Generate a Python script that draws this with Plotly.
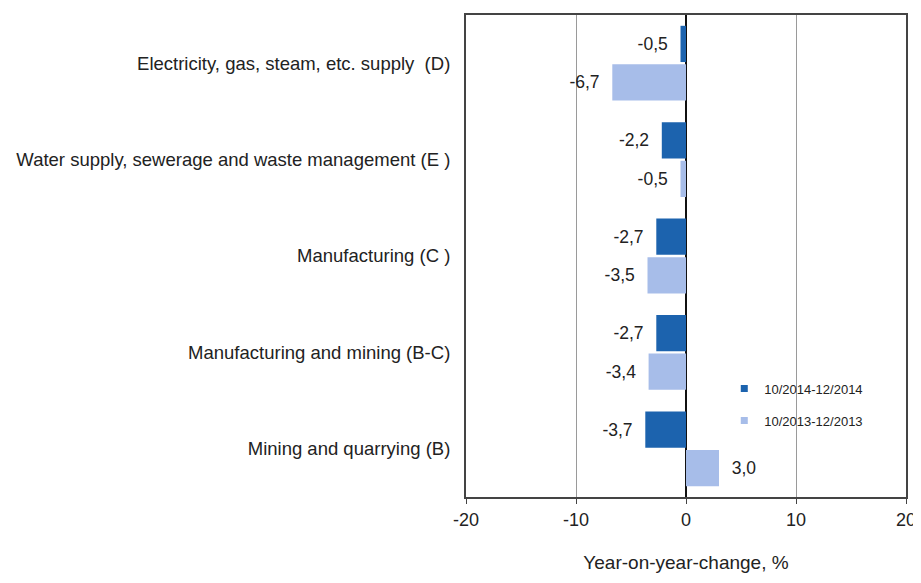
import plotly.graph_objects as go

categories = [
    "Electricity, gas, steam, etc. supply  (D)",
    "Water supply, sewerage and waste management (E )",
    "Manufacturing (C )",
    "Manufacturing and mining (B-C)",
    "Mining and quarrying (B)",
]
series_names = ["10/2014-12/2014", "10/2013-12/2013"]
values_2014 = [-0.5, -2.2, -2.7, -2.7, -3.7]
values_2013 = [-6.7, -0.5, -3.5, -3.4, 3.0]
x_ticks = [-20, -10, 0, 10, 20]

colors = ["#1c63ae", "#a7bde9"]
font = "Liberation Sans, Arial, sans-serif"
NB = "\u00a0"


def fmt(v):
    s = f"{v:.1f}".replace(".", ",")
    return s + NB * 2 if v < 0 else NB * 2 + s


fig = go.Figure()
for name, vals, col in zip(series_names, [values_2014, values_2013], colors):
    fig.add_trace(go.Bar(
        y=categories, x=vals, orientation="h", name=name,
        marker=dict(color=col, line=dict(width=0)),
        text=[fmt(v) for v in vals], textposition="outside",
        textfont=dict(size=17.5, color="#222222", family=font),
        cliponaxis=False, showlegend=False,
    ))
for i, (name, col) in enumerate(zip(series_names, colors)):
    fig.add_trace(go.Scatter(
        x=[None], y=[None], mode="markers", name=name,
        marker=dict(symbol="square", size=7, color=col),
        legendgroup=f"g{i}", showlegend=True,
    ))

# page body has an 8px margin, so the figure is made smaller and shifted
fig.update_layout(
    width=913, height=567,
    margin=dict(l=458, r=10, t=5, b=73),
    paper_bgcolor="white", plot_bgcolor="white",
    barmode="group", bargap=0.2, bargroupgap=0.06,
    font=dict(family=font, size=18, color="#222222"),
    legend=dict(x=0.587, y=0.256, xanchor="left", yanchor="top",
                font=dict(size=13, color="#222222"),
                tracegroupgap=12, itemwidth=30, bgcolor="rgba(0,0,0,0)"),
    xaxis=dict(range=[-20, 20], tickvals=x_ticks, ticktext=[str(t) for t in x_ticks],
               showgrid=True, gridcolor="#9a9a9a", gridwidth=1,
               zeroline=True, zerolinecolor="#111111", zerolinewidth=1.5,
               showline=True, linecolor="#444444", linewidth=2, mirror=True,
               ticks="outside", ticklen=5, tickcolor="#444444",
               tickfont=dict(size=18), ticklabeloverflow="allow",
               title=dict(text="Year-on-year-change, %", standoff=27, font=dict(size=19))),
    yaxis=dict(autorange="reversed", showline=True, linecolor="#444444", linewidth=2,
               mirror=True, showgrid=False, ticks="", ticklabelstandoff=10,
               tickfont=dict(size=18.5)),
)

fig.write_html("out.html", config={"displayModeBar": False})
